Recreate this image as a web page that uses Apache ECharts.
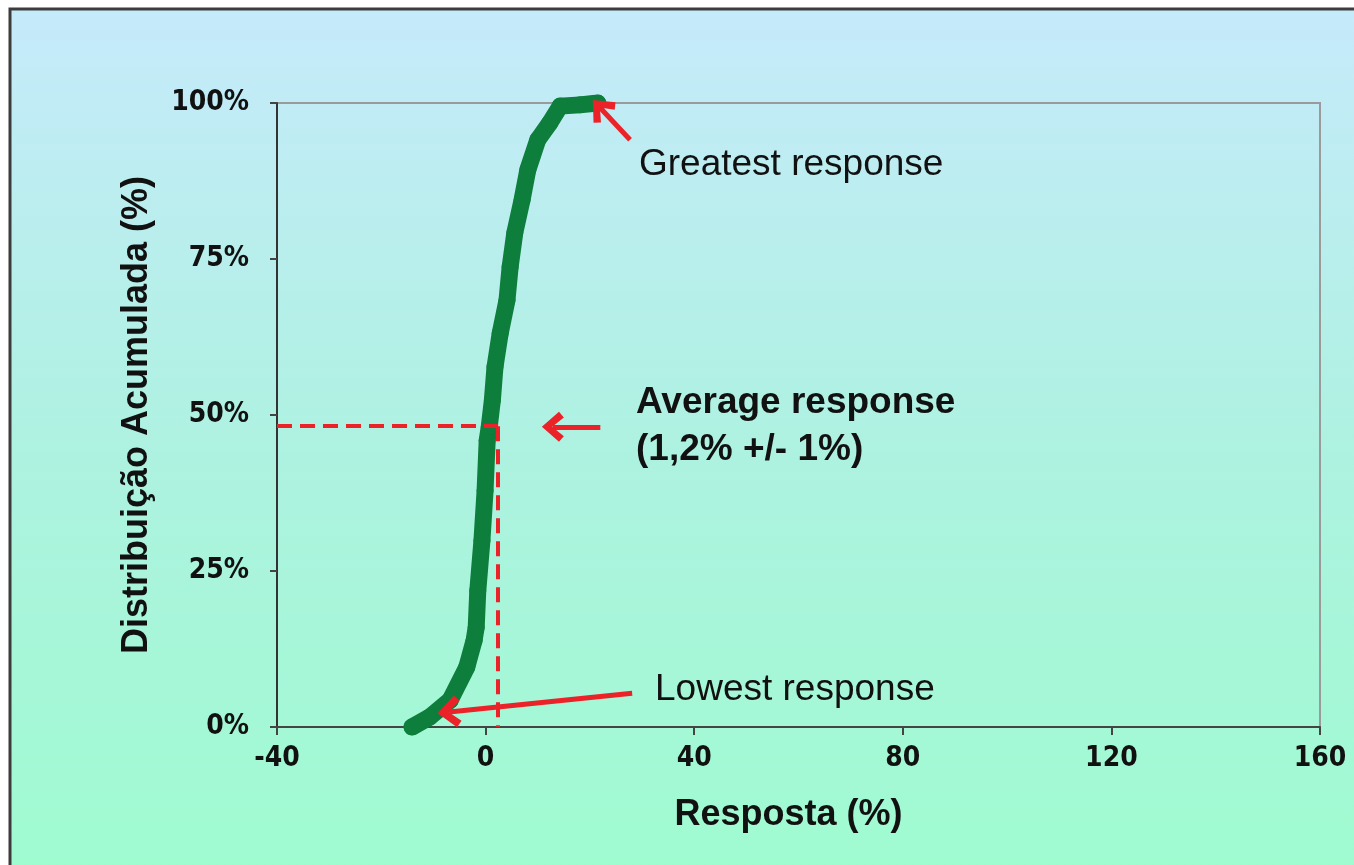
<!DOCTYPE html>
<html lang="en">
<head>
<meta charset="UTF-8">
<title>Distribuição Acumulada</title>
<style>
html, body { margin: 0; padding: 0; background: #fff; }
#chart { width: 1354px; height: 865px; }
</style>
</head>
<body>
<div id="chart"></div>
<script src="https://cdn.jsdelivr.net/npm/echarts@6/dist/echarts.min.js"></script>
<script>
// curva acumulada: [resposta %, distribuição %]
var curveX = [-14.1, -10.7, -6.8, -3.6, -2.2, -1.8, -1.5, -0.7, -0.1, 0.3, 0.7, 1.3, 1.8, 2.8, 4.1, 4.7, 5.6, 7.0, 8.1, 10.0, 12.3, 14.3, 18.1, 21.5];
var curveY = [0, 1.6, 4.3, 9.6, 13.9, 16.0, 21.8, 29.9, 37.9, 45.9, 48.1, 52.4, 57.7, 63.1, 68.4, 73.7, 79.2, 84.5, 89.3, 94.1, 96.8, 99.5, 99.7, 100];
var xTicks = [-40, 0, 40, 80, 120, 160];
var yTicks = [0, 25, 50, 75, 100];
var avgX = 2.4, avgY = 48.2;

var red = '#ec2229';
var green = '#0e7e3d';
var tickFont = "'Liberation Sans Narrow', 'DejaVu Sans Condensed', sans-serif";
var textFont = '"Liberation Sans", Arial, sans-serif';

var curve = curveX.map(function (x, i) { return [x, curveY[i]]; });

// ponta de seta aberta (chevron)
var chevron = 'path://M0,14 L12,0 L24,14 L19.5,18 L12,8.5 L4.5,18 Z';
var dashed = { color: red, width: 4, type: [15, 8] };
var solid = { color: red, width: 5, type: 'solid' };

var chart = echarts.init(document.getElementById('chart'));
chart.setOption({
    animation: false,
    graphic: [
        {
            type: 'rect', z: -10, silent: true,
            shape: { x: 10, y: 9, width: 1400, height: 900 },
            style: {
                fill: new echarts.graphic.LinearGradient(0, 0, 0, 1, [
                    { offset: 0, color: '#c6eafb' },
                    { offset: 0.5, color: '#adf2e0' },
                    { offset: 1, color: '#9efccf' }
                ]),
                stroke: '#3c3c3c', lineWidth: 3
            }
        },
        { type: 'text', left: 639, top: 146, style: { text: 'Greatest response', font: '37px ' + textFont, fill: '#111' } },
        { type: 'text', left: 636, top: 384, style: { text: 'Average response', font: 'bold 37px ' + textFont, fill: '#111' } },
        { type: 'text', left: 636, top: 431, style: { text: '(1,2% +/- 1%)', font: 'bold 37px ' + textFont, fill: '#111' } },
        { type: 'text', left: 655, top: 671, style: { text: 'Lowest response', font: '37px ' + textFont, fill: '#111' } }
    ],
    grid: {
        left: 277, top: 103, width: 1043, height: 624,
        show: true, borderColor: '#9a9a9a', borderWidth: 2, backgroundColor: 'transparent'
    },
    xAxis: {
        type: 'value', min: -40, max: 160, interval: 40,
        name: 'Resposta (%)', nameLocation: 'middle', nameGap: 70,
        nameTextStyle: { fontSize: 36, fontWeight: 'bold', color: '#111', fontFamily: textFont, padding: [0, 20, 0, 0] },
        axisLine: { onZero: false, lineStyle: { color: '#444', width: 2 } },
        axisTick: { length: 8, lineStyle: { color: '#444', width: 2 } },
        splitLine: { show: false },
        axisLabel: {
            margin: 18, fontSize: 28, fontWeight: 'bold', color: '#111', fontFamily: tickFont,
            formatter: function (v) { return xTicks.indexOf(v) >= 0 ? String(v) : ''; }
        }
    },
    yAxis: {
        type: 'value', min: 0, max: 100, interval: 25,
        name: 'Distribuição Acumulada (%)', nameLocation: 'middle', nameGap: 122,
        nameTextStyle: { fontSize: 36, fontWeight: 'bold', color: '#111', fontFamily: textFont },
        axisLine: { show: true, onZero: false, lineStyle: { color: '#333', width: 2 } },
        axisTick: { show: true, length: 7, lineStyle: { color: '#444', width: 2 } },
        splitLine: { show: false },
        axisLabel: {
            margin: 28, fontSize: 28, fontWeight: 'bold', color: '#111', fontFamily: tickFont,
            formatter: function (v) { return yTicks.indexOf(v) >= 0 ? v + '%' : ''; }
        }
    },
    series: [
        {
            type: 'line', data: curve, z: 3,
            symbol: 'circle', symbolSize: 17, showSymbol: true,
            lineStyle: { color: green, width: 17, cap: 'round', join: 'round' },
            itemStyle: { color: green }
        },
        {
            // anotações: linhas tracejadas da média e setas
            type: 'line', data: [], z: 2,
            markLine: {
                silent: true, animation: false,
                label: { show: false },
                data: [
                    [
                        { coord: [-40, avgY], symbol: 'none', lineStyle: dashed },
                        { coord: [avgX, avgY], symbol: 'none' }
                    ],
                    [
                        { coord: [avgX, avgY], symbol: 'none', lineStyle: dashed },
                        { coord: [avgX, 0], symbol: 'none' }
                    ],
                    [
                        { coord: [27.7, 94.1], symbol: 'none', lineStyle: solid },
                        { coord: [22.0, 99.2], symbol: chevron, symbolSize: [30, 22] }
                    ],
                    [
                        { coord: [22.0, 48.1], symbol: 'none', lineStyle: solid },
                        { coord: [12.9, 48.1], symbol: chevron, symbolSize: [30, 22] }
                    ],
                    [
                        { coord: [28.1, 5.4], symbol: 'none', lineStyle: solid },
                        { coord: [-7.0, 2.4], symbol: chevron, symbolSize: [32, 23] }
                    ]
                ]
            }
        }
    ]
});
</script>
</body>
</html>
